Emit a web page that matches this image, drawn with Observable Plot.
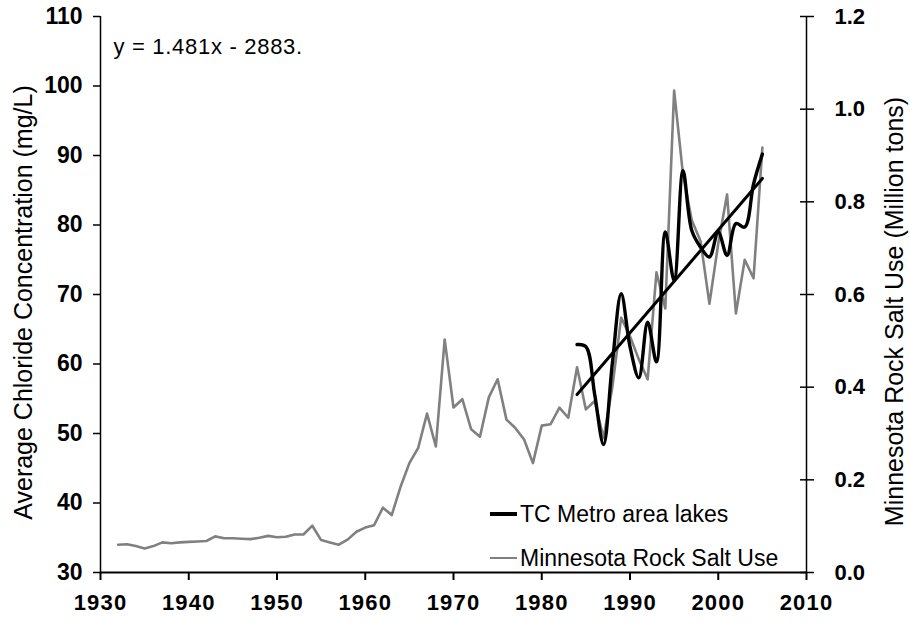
<!DOCTYPE html>
<html>
<head>
<meta charset="utf-8">
<script src="https://cdn.jsdelivr.net/npm/d3@7"></script>
<script src="https://cdn.jsdelivr.net/npm/@observablehq/plot@0.6"></script>
<style>
  body { margin: 0; background: #fff; }
  #chart { position: relative; width: 910px; height: 627px; font-family: "Liberation Sans", Arial, sans-serif; }
  .lg-row { position: absolute; left: 490px; display: flex; align-items: center; height: 30px; font-size: 23px; color: #000; white-space: nowrap; }
  .lg-sw { display: inline-block; width: 27px; margin-right: 3px; }
  .eq text { letter-spacing: 0.7px; }
  .xt text { letter-spacing: 1.2px; }
</style>
</head>
<body>
<div id="chart"></div>
<script>
// ---- Data ----
const saltYears = [1932,1933,1934,1935,1936,1937,1938,1939,1940,1941,1942,1943,1944,1945,1946,1947,1948,1949,1950,1951,1952,1953,1954,1955,1956,1957,1958,1959,1960,1961,1962,1963,1964,1965,1966,1967,1968,1969,1970,1971,1972,1973,1974,1975,1976,1977,1978,1979,1980,1981,1982,1983,1984,1985,1986,1987,1988,1989,1990,1991,1992,1993,1994,1995,1996,1997,1998,1999,2000,2001,2002,2003,2004,2005];
// Minnesota Rock Salt Use (million tons)
const saltUse = [0.060,0.061,0.057,0.052,0.057,0.065,0.063,0.065,0.066,0.067,0.068,0.078,0.074,0.074,0.073,0.072,0.075,0.079,0.076,0.077,0.082,0.082,0.101,0.070,0.065,0.060,0.071,0.088,0.097,0.102,0.140,0.124,0.185,0.236,0.269,0.343,0.272,0.503,0.356,0.374,0.309,0.293,0.378,0.417,0.330,0.312,0.287,0.236,0.317,0.320,0.356,0.334,0.443,0.352,0.370,0.290,0.400,0.550,0.510,0.460,0.417,0.648,0.570,1.040,0.860,0.760,0.715,0.580,0.710,0.816,0.559,0.675,0.635,0.917];

const lakeYears = [1984,1985,1986,1987,1988,1989,1990,1991,1992,1993,1994,1995,1996,1997,1998,1999,2000,2001,2002,2003,2004,2005];
// TC Metro area lakes average chloride (mg/L)
const lakeChloride = [62.8,62.5,55.6,48.4,60.1,70.1,62.5,58.0,66.0,60.3,79.0,72.0,87.8,79.2,76.8,75.4,79.0,75.6,80.2,79.7,85.9,90.2];

const trendYears = [1984, 2005];
const trendValues = [55.6, 86.7];

const xTicks = [1930,1940,1950,1960,1970,1980,1990,2000,2010];
const leftTicks = [30,40,50,60,70,80,90,100,110];
const rightTicks = [0.0,0.2,0.4,0.6,0.8,1.0,1.2];

const equationText = "y = 1.481x - 2883.";
const leftTitle = "Average Chloride Concentration (mg/L)";
const rightTitle = "Minnesota Rock Salt Use (Million tons)";
const seriesNames = ["TC Metro area lakes", "Minnesota Rock Salt Use"];

// ---- Build tables ----
const leftMin = leftTicks[0], leftMax = leftTicks[leftTicks.length - 1];
const rightMin = rightTicks[0], rightMax = rightTicks[rightTicks.length - 1];
const toLeft = v => leftMin + (v - rightMin) * (leftMax - leftMin) / (rightMax - rightMin);
const fromLeft = y => rightMin + (y - leftMin) * (rightMax - rightMin) / (leftMax - leftMin);

const saltData = saltYears.map((year, i) => ({year, salt: saltUse[i]}));
const lakeData = lakeYears.map((year, i) => ({year, cl: lakeChloride[i]}));
const trendData = trendYears.map((year, i) => ({year, cl: trendValues[i]}));

const xMin = xTicks[0], xMax = xTicks[xTicks.length - 1];
const font = "Liberation Sans, Arial, sans-serif";

const plot = Plot.plot({
  width: 910,
  height: 627,
  marginLeft: 100,
  marginRight: 104,
  marginTop: 16,
  marginBottom: 55,
  style: {fontFamily: font, background: "white", overflow: "visible", color: "#000"},
  x: {domain: [xMin, xMax]},
  y: {domain: [leftMin, leftMax]},
  marks: [
    Plot.line(saltData, {x: "year", y: d => toLeft(d.salt), stroke: "#808080", strokeWidth: 2.6, strokeLinejoin: "round"}),
    Plot.line(lakeData, {x: "year", y: "cl", stroke: "#000", strokeWidth: 3.4, curve: "catmull-rom"}),
    Plot.line(trendData, {x: "year", y: "cl", stroke: "#000", strokeWidth: 3}),
    // axis lines
    Plot.ruleX([xMin], {stroke: "#000", strokeWidth: 1.5}),
    Plot.ruleX([xMax], {stroke: "#000", strokeWidth: 1.5}),
    Plot.ruleY([leftMin], {stroke: "#000", strokeWidth: 2.2}),
    Plot.axisX(xTicks, {tickSize: 8, tickPadding: 14, tickFormat: d => String(d), fontSize: 22, fontWeight: "bold", strokeWidth: 2, label: null, className: "xt"}),
    Plot.axisY(leftTicks, {anchor: "left", tickSize: 7, tickPadding: 11, tickFormat: d => String(d), fontSize: 23, fontWeight: "bold", strokeWidth: 1.5, label: null}),
    Plot.axisY(rightTicks.map(toLeft), {anchor: "right", tickSize: 7, tickPadding: 21, tickFormat: d => fromLeft(d).toFixed(1), fontSize: 22, fontWeight: "bold", strokeWidth: 1.5, label: null}),
    Plot.axisY(rightTicks.map(toLeft), {anchor: "right", tickSize: 7, dx: -7, tickFormat: () => "", strokeWidth: 1.5, label: null}),
    Plot.text([equationText], {frameAnchor: "top-left", text: d => d, dx: 13, dy: 22, fontSize: 22, textAnchor: "start", className: "eq"}),
    Plot.text([leftTitle], {frameAnchor: "left", text: d => d, rotate: -90, textAnchor: "middle", dx: -77, dy: 8, fontSize: 25}),
    Plot.text([rightTitle], {frameAnchor: "right", text: d => d, rotate: -90, textAnchor: "middle", dx: 88, dy: 17, fontSize: 25})
  ]
});

const chart = document.getElementById("chart");
chart.appendChild(plot);

// Legend (HTML overlay inside plot area)
const legendStyles = [{color: "#000", h: 3.4, top: 499}, {color: "#808080", h: 2.6, top: 543}];
seriesNames.forEach((name, i) => {
  const row = document.createElement("div");
  row.className = "lg-row";
  row.style.top = legendStyles[i].top + "px";
  const sw = document.createElement("span");
  sw.className = "lg-sw";
  sw.style.height = legendStyles[i].h + "px";
  sw.style.background = legendStyles[i].color;
  const tx = document.createElement("span");
  tx.textContent = name;
  row.appendChild(sw);
  row.appendChild(tx);
  chart.appendChild(row);
});
</script>
</body>
</html>
